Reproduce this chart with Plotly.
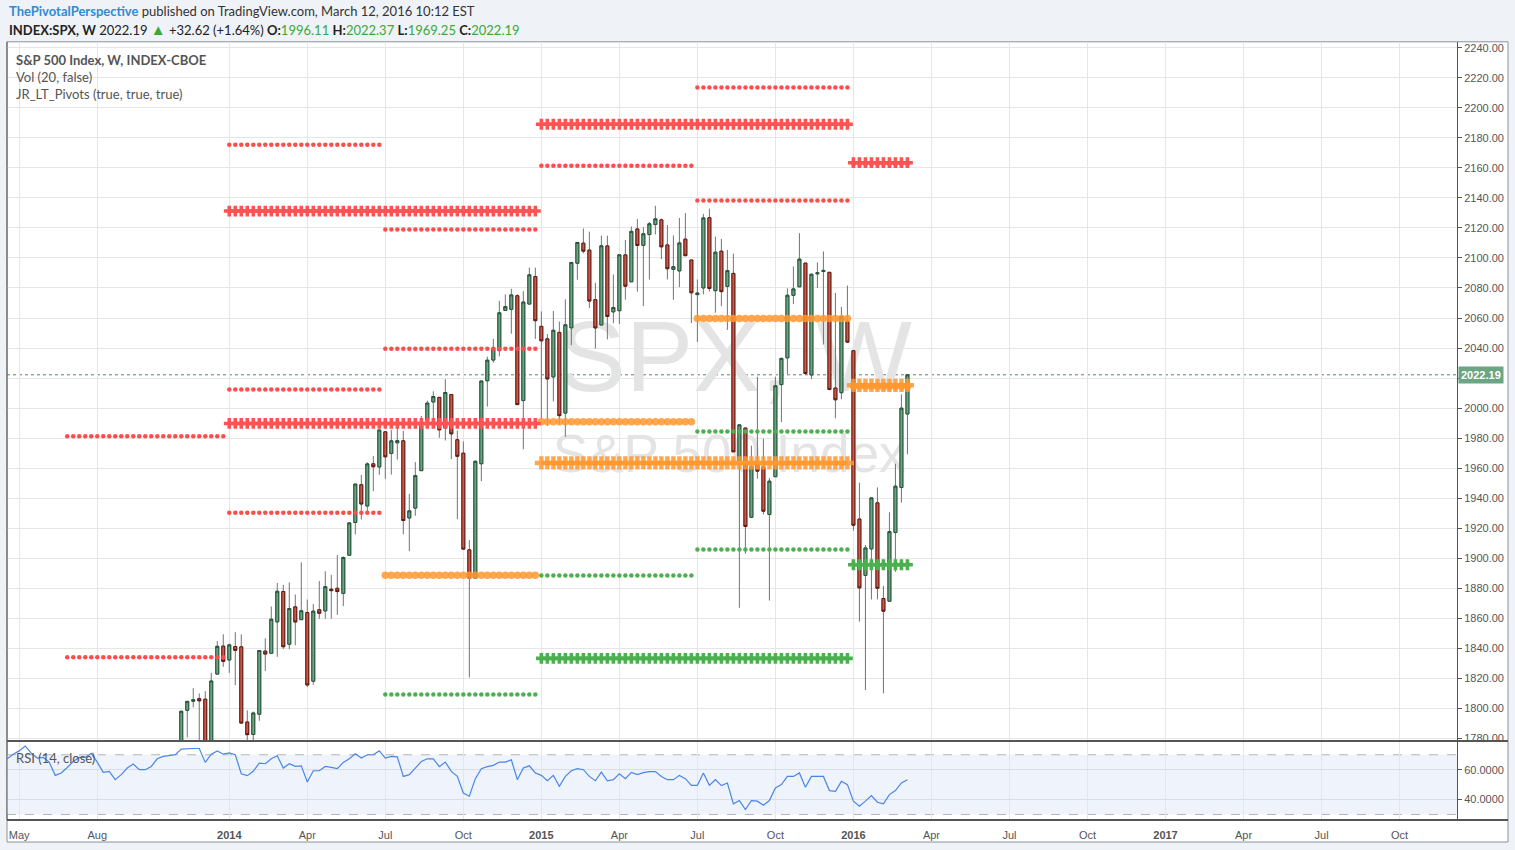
import pandas as pd
import plotly.graph_objects as go

W, H = 1515, 850

# ---------------- weekly S&P 500 bars (Monday dated), from 2013-04-22 ----------------
FIRST_BAR = "2013-04-22"
opens = [
    1555.25, 1582.34, 1614.40, 1632.10, 1665.71, 1652.63, 1631.71, 1644.67, 1630.64, 1588.77,
    1609.78, 1634.20, 1679.59, 1692.09, 1690.32, 1708.01, 1690.65, 1655.25, 1664.29, 1635.95,
    1656.85, 1691.70, 1711.44, 1687.26, 1687.15, 1702.68, 1745.20, 1759.42, 1762.97, 1769.96,
    1798.82, 1804.82, 1806.55, 1806.21, 1776.01, 1822.92, 1841.52,
    # 2014
    1832.31, 1841.26, 1841.05, 1791.03, 1782.68, 1796.20, 1838.22, 1836.78, 1857.68, 1877.86,
    1842.81, 1867.67, 1859.16, 1863.92, 1818.18, 1865.79, 1865.00, 1879.45, 1880.03, 1876.66,
    1902.01, 1923.87, 1948.97, 1934.84, 1962.92, 1960.79, 1984.22, 1969.86, 1976.93, 1978.25,
    1926.86, 1933.43, 1958.36, 1991.74, 2004.07, 2007.17, 1986.77, 2009.08, 1978.96, 1970.01,
    1905.65, 1886.76, 1962.97, 2018.21, 2032.01, 2038.29, 2065.07, 2065.78, 2074.84, 2005.03,
    2069.28, 2087.63,
    # 2015
    2054.44, 2046.13, 2020.76, 2050.42, 1996.67, 2053.47, 2096.47, 2109.83, 2105.23, 2072.25,
    2055.35, 2107.99, 2064.11, 2064.87, 2102.03, 2084.11, 2119.29, 2108.35, 2115.56, 2122.27,
    2125.34, 2108.64, 2092.34, 2091.34, 2112.50, 2098.63, 2075.58, 2080.03, 2126.80, 2078.19,
    2104.49, 2080.98, 2089.70, 1965.15, 1986.73, 1927.30, 1963.06, 1960.84, 1929.18, 1954.33,
    2015.65, 2033.47, 2075.08, 2080.76, 2096.56, 2022.08, 2089.41, 2090.95, 2090.42, 2013.37,
    2010.27, 2057.77,
    # 2016
    2038.20, 1926.12, 1888.66, 1906.28, 1936.94, 1873.25, 1871.44, 1917.15, 1947.13, 1996.11,
]
highs = [
    1592.64, 1618.46, 1635.01, 1667.47, 1687.18, 1674.21, 1646.53, 1648.69, 1654.19, 1620.07,
    1632.07, 1680.19, 1693.12, 1698.78, 1709.67, 1709.24, 1696.81, 1664.85, 1669.51, 1664.83,
    1689.97, 1729.86, 1711.44, 1696.55, 1703.44, 1745.31, 1759.82, 1775.22, 1774.54, 1798.22,
    1802.33, 1813.55, 1810.02, 1811.52, 1823.75, 1844.89, 1849.44,
    # 2014
    1843.23, 1850.84, 1849.31, 1798.77, 1798.03, 1838.63, 1846.79, 1867.92, 1883.57, 1882.35,
    1883.97, 1875.92, 1897.28, 1872.53, 1869.63, 1884.89, 1891.33, 1889.07, 1902.17, 1901.26,
    1924.03, 1949.44, 1955.55, 1963.91, 1968.17, 1985.59, 1984.22, 1985.59, 1991.39, 1984.85,
    1942.92, 1964.04, 1994.76, 2005.04, 2011.17, 2007.17, 2019.26, 2009.08, 1985.17, 1977.84,
    1912.09, 1965.27, 2018.19, 2034.26, 2046.18, 2071.46, 2075.76, 2079.47, 2075.78, 2077.85,
    2093.55, 2093.55,
    # 2015
    2064.43, 2049.30, 2064.62, 2057.62, 2072.40, 2097.03, 2110.61, 2119.59, 2117.52, 2083.49,
    2114.86, 2114.86, 2088.97, 2102.61, 2111.91, 2120.92, 2125.92, 2120.48, 2123.89, 2134.72,
    2126.22, 2121.92, 2115.02, 2126.65, 2129.87, 2098.63, 2085.67, 2129.35, 2132.82, 2114.24,
    2112.66, 2105.35, 2102.87, 1965.15, 1986.73, 1975.01, 2020.86, 1979.64, 1953.46, 2020.86,
    2033.54, 2079.74, 2094.32, 2116.48, 2096.56, 2089.17, 2097.06, 2104.27, 2090.42, 2076.72,
    2067.36, 2081.56,
    # 2016
    2038.20, 1950.33, 1908.85, 1940.24, 1947.20, 1881.60, 1930.68, 1962.96, 2009.13, 2022.37,
]
lows = [
    1548.19, 1581.28, 1614.40, 1626.74, 1635.53, 1630.74, 1598.23, 1608.07, 1577.70, 1560.33,
    1604.57, 1634.20, 1672.21, 1676.03, 1681.86, 1683.38, 1652.61, 1639.43, 1627.47, 1633.41,
    1656.85, 1691.70, 1687.11, 1674.99, 1646.47, 1700.79, 1740.50, 1752.70, 1746.20, 1760.64,
    1780.75, 1800.77, 1779.09, 1772.43, 1767.99, 1822.92, 1827.74,
    # 2014
    1823.73, 1815.52, 1790.29, 1772.26, 1737.92, 1791.83, 1824.93, 1836.78, 1834.44, 1839.57,
    1839.49, 1842.11, 1859.16, 1814.36, 1815.80, 1859.70, 1859.79, 1859.79, 1862.36, 1868.14,
    1902.01, 1915.98, 1925.78, 1930.91, 1944.69, 1955.59, 1952.86, 1955.73, 1965.77, 1916.01,
    1904.78, 1928.29, 1958.36, 1990.52, 1990.10, 1980.26, 1978.48, 1965.99, 1926.03, 1906.05,
    1820.66, 1886.76, 1951.37, 2001.01, 2030.17, 2034.46, 2064.75, 2049.57, 2002.33, 1972.56,
    2069.28, 2046.04,
    # 2015
    1992.44, 1988.12, 2004.49, 1989.18, 1980.90, 2041.88, 2085.44, 2103.00, 2066.59, 2039.69,
    2055.35, 2045.79, 2056.52, 2056.01, 2072.25, 2084.11, 2077.52, 2067.93, 2085.57, 2115.56,
    2099.18, 2085.67, 2072.14, 2080.53, 2101.30, 2056.64, 2044.02, 2075.78, 2077.63, 2063.52,
    2067.91, 2052.09, 1970.89, 1867.01, 1903.07, 1927.30, 1953.03, 1929.22, 1871.91, 1954.33,
    1990.73, 2022.63, 2069.29, 2080.76, 2022.03, 2019.39, 2080.07, 2042.35, 2011.99, 1993.26,
    2005.93, 2043.62,
    # 2016
    1918.46, 1857.83, 1812.29, 1872.65, 1872.65, 1810.10, 1871.44, 1891.00, 1937.09, 1969.25,
]
closes = [
    1582.24, 1614.42, 1633.70, 1667.47, 1649.60, 1630.74, 1643.38, 1626.73, 1592.43, 1606.28,
    1631.89, 1680.19, 1692.09, 1691.65, 1709.67, 1691.42, 1655.83, 1663.50, 1632.97, 1655.17,
    1687.99, 1709.91, 1691.75, 1690.50, 1703.20, 1744.50, 1759.77, 1761.64, 1770.61, 1798.18,
    1804.76, 1805.81, 1805.09, 1775.32, 1818.32, 1841.40, 1831.37,
    # 2014
    1842.37, 1838.70, 1790.29, 1782.59, 1797.02, 1838.63, 1836.25, 1859.45, 1878.04, 1841.13,
    1866.52, 1857.62, 1865.09, 1815.69, 1864.85, 1863.40, 1881.14, 1878.48, 1877.86, 1900.53,
    1923.57, 1949.44, 1936.16, 1962.87, 1960.96, 1985.44, 1967.57, 1978.22, 1978.34, 1925.15,
    1931.59, 1955.06, 1988.40, 2003.37, 2007.71, 1985.54, 2010.40, 1982.85, 1967.90, 1906.13,
    1886.76, 1964.58, 2018.05, 2031.92, 2039.82, 2063.50, 2067.56, 2075.37, 2002.33, 2070.65,
    2088.77, 2058.20,
    # 2015
    2044.81, 2019.42, 2051.82, 1994.99, 2055.47, 2096.99, 2110.30, 2104.50, 2071.26, 2053.40,
    2108.10, 2061.02, 2066.96, 2102.06, 2081.18, 2117.69, 2108.29, 2116.10, 2122.73, 2126.06,
    2107.39, 2092.83, 2094.11, 2109.99, 2101.49, 2076.78, 2076.62, 2126.64, 2079.65, 2103.84,
    2077.57, 2091.54, 1970.89, 1988.87, 1921.22, 1961.05, 1958.03, 1931.34, 1951.36, 2014.89,
    2033.11, 2075.15, 2079.36, 2099.20, 2023.04, 2089.17, 2090.11, 2091.69, 2012.37, 2005.55,
    2060.99, 2043.94,
    # 2016
    1922.03, 1880.33, 1906.90, 1940.24, 1880.05, 1864.78, 1917.78, 1948.05, 1999.99, 2022.19,
]

# RSI(14, close), one value per weekly bar
rsi = [
    67.3, 70.4, 72.6, 75.8, 71.1, 67.8, 68.2, 65.1, 56.2, 57.8,
    61.5, 65.5, 68.2, 68.2, 70.9, 65.1, 58.2, 58.9, 53.3, 56.7,
    61.1, 63.8, 60.0, 60.0, 62.2, 67.3, 68.9, 69.3, 70.0, 73.8,
    74.2, 74.2, 74.2, 64.9, 70.4, 72.6, 70.4,
    71.3, 70.0, 57.3, 56.0, 58.9, 64.4, 64.0, 67.3, 69.3, 61.1,
    64.0, 62.2, 62.6, 51.8, 59.3, 59.3, 62.2, 61.5, 60.7, 64.9,
    67.3, 70.6, 67.8, 70.0, 70.0, 72.6, 67.8, 68.9, 68.6, 55.5,
    56.7, 61.1, 65.5, 67.3, 67.3, 62.0, 65.1, 58.9, 55.5, 44.4,
    42.2, 54.0, 60.7, 62.0, 62.9, 65.1, 65.1, 66.6, 53.3, 61.1,
    62.6, 57.8,
    56.2, 52.6, 56.2, 48.9, 55.5, 59.3, 60.7, 60.0, 55.5, 52.6,
    58.4, 52.6, 53.3, 57.3, 54.0, 58.2, 56.7, 58.0, 58.7, 58.7,
    55.5, 53.3, 53.3, 56.2, 54.0, 49.5, 49.5, 57.8, 49.5, 53.3,
    49.3, 51.1, 37.1, 39.3, 33.3, 39.3, 38.9, 36.2, 39.3, 47.8,
    50.0, 55.5, 55.5, 57.8, 48.2, 55.5, 55.5, 55.5, 46.0, 45.5,
    52.2, 50.0,
    38.9, 35.5, 38.9, 42.6, 38.2, 37.1, 43.3, 46.0, 51.1, 53.3,
]
RSI_BANDS = [30, 70]

# ---------------- JR_LT_Pivots levels ----------------
semi_periods = [("2013-07-01", "2013-12-30"), ("2014-01-06", "2014-06-30"),
                ("2014-07-07", "2014-12-29"), ("2015-01-05", "2015-06-29"),
                ("2015-07-06", "2015-12-28"), ("2016-01-04", "2016-03-07")]
semi_R = [[1834.2, 1981.2], [1930.4, 2012.4, 2175.3], [2039.6, 2119.0],
          [2161.4], [2138.3, 2213.4], [2162.2]]
semi_P = [None, None, 1888.8, 1991.0, 2059.6, 2014.6]
semi_S = [[], [], [1809.4], [1888.5], [1984.5, 1905.8], [1896.4]]

annual_periods = [("2014-01-06", "2014-12-29"), ("2015-01-05", "2015-12-28"),
                  ("2016-01-04", "2016-03-07")]
annual_R = [[1989.8, 2131.2], [2189.0], [2163.4]]
annual_P = [None, 1963.5, 2015.2]
annual_S = [[], [1833.4], [1895.7]]

LAST_PRICE = 2022.19

# ---------------- axis ticks ----------------
tick_dates = ["2013-05-06", "2013-08-05", "2014-01-06", "2014-04-07", "2014-07-07", "2014-10-06",
              "2015-01-05", "2015-04-06", "2015-07-06", "2015-10-05", "2016-01-04", "2016-04-04",
              "2016-07-04", "2016-10-03", "2017-01-02", "2017-04-03", "2017-07-03", "2017-10-02"]
tick_text = ["May", "Aug", "<b>2014</b>", "Apr", "Jul", "Oct", "<b>2015</b>", "Apr", "Jul", "Oct",
             "<b>2016</b>", "Apr", "Jul", "Oct", "<b>2017</b>", "Apr", "Jul", "Oct"]
price_ticks = list(range(1780, 2241, 20))
price_tick_text = ["" if v == 2020 else "%.2f" % v for v in price_ticks]   # hidden by the last-price tag
X_RANGE = ["2013-04-21 18:00", "2017-12-08"]
PRICE_RANGE = [1778.7, 2243.9]
RSI_RANGE = [26.2, 78.9]

dates = pd.date_range(FIRST_BAR, periods=len(closes), freq="W-MON")

# ---------------- layout helpers ----------------
def px_x(p):
    return p / W

def px_y(p):
    return 1 - p / H

PL, PR = 7, 1457          # plot left/right px
MAIN_T, MAIN_B = 42, 744
RSI_T, RSI_B = 745, 824
BOX_R, BOX_B = 1508, 846

fig = go.Figure()

# watermark (base layer, below candles)
fig.add_trace(go.Scatter(
    x=["2015-08-19", "2015-08-12"], y=[2028, 1966], mode="text",
    text=["SPX, W", "S&P 500 Index"],
    textfont=dict(family="Liberation Sans", size=[101, 53], color="#e4e4e4"),
    hoverinfo="skip", showlegend=False, xaxis="x", yaxis="y"))

# wicks (gray)
fig.add_trace(go.Candlestick(
    x=dates, open=opens, high=highs, low=lows, close=closes,
    increasing=dict(line=dict(color="#737375", width=1), fillcolor="#737375"),
    decreasing=dict(line=dict(color="#737375", width=1), fillcolor="#737375"),
    whiskerwidth=0, showlegend=False, hoverinfo="skip", xaxis="x", yaxis="y3"))

# bodies
body_hi = [max(o, c) for o, c in zip(opens, closes)]
body_lo = [min(o, c) for o, c in zip(opens, closes)]
fig.add_trace(go.Candlestick(
    x=dates, open=opens, high=body_hi, low=body_lo, close=closes,
    increasing=dict(line=dict(color="#225437", width=1), fillcolor="#6ba583"),
    decreasing=dict(line=dict(color="#5b1a13", width=1), fillcolor="#d75442"),
    whiskerwidth=0, showlegend=False, hoverinfo="skip", xaxis="x", yaxis="y3"))

# pivot markers
def level_points(periods, levels):
    xs, ys = [], []
    for (a, b), lv in zip(periods, levels):
        if lv is None:
            continue
        vals = lv if isinstance(lv, list) else [lv]
        wk = pd.date_range(a, b, freq="W-MON")
        for v in vals:
            xs += list(wk)
            ys += [v] * len(wk)
    return xs, ys

styles = [
    (semi_periods, semi_R, dict(symbol="circle", size=4.5, color="#ff4d4d")),
    (semi_periods, semi_S, dict(symbol="circle", size=4.5, color="#4caf50")),
    (semi_periods, semi_P, dict(symbol="circle", size=7.5, color="rgba(255,152,48,0.85)")),
    (annual_periods, annual_R, dict(symbol="cross", size=9, color="#ff5252")),
    (annual_periods, annual_S, dict(symbol="cross", size=9, color="#4caf50")),
    (annual_periods, annual_P, dict(symbol="cross", size=11, color="rgba(255,152,48,0.85)")),
]
for per, lv, mk in styles:
    xs, ys = level_points(per, lv)
    fig.add_trace(go.Scatter(x=xs, y=ys, mode="markers", marker=dict(line=dict(width=0), **mk),
                             showlegend=False, hoverinfo="skip", xaxis="x", yaxis="y3"))

# RSI
rsi_dates = pd.date_range(FIRST_BAR, periods=len(rsi), freq="W-MON")
fig.add_trace(go.Scatter(x=rsi_dates, y=rsi, mode="lines", line=dict(color="#4a86e8", width=1.2),
                         showlegend=False, hoverinfo="skip", xaxis="x2", yaxis="y2"))

GRID = "#e6e6e6"
AX = "#555555"
axis_font = dict(family="Liberation Sans", size=11, color="#555555")

fig.update_layout(
    width=W, height=H, autosize=False,
    margin=dict(l=0, r=0, t=0, b=0),
    paper_bgcolor="#eff2f6", plot_bgcolor="white",
    showlegend=False,
    xaxis=dict(type="date", domain=[px_x(PL), px_x(PR)], range=X_RANGE, anchor="y",
               tickvals=tick_dates, showticklabels=False, showgrid=True, gridcolor=GRID,
               zeroline=False, showline=False, rangeslider=dict(visible=False), fixedrange=True),
    yaxis=dict(domain=[px_y(MAIN_B), px_y(MAIN_T)], range=PRICE_RANGE, anchor="x", side="right",
               tickvals=price_ticks, ticktext=price_tick_text,
               showgrid=True, gridcolor=GRID, zeroline=False, ticks="outside", ticklen=4,
               tickcolor=AX, showline=True, linecolor=AX, linewidth=1, tickfont=axis_font),
    yaxis3=dict(overlaying="y", range=PRICE_RANGE, visible=False, anchor="x", side="right"),
    xaxis2=dict(type="date", domain=[px_x(PL), px_x(PR)], range=X_RANGE, anchor="y2", matches="x",
                tickvals=tick_dates, ticktext=tick_text, showgrid=True, gridcolor=GRID,
                zeroline=False, showline=False, tickfont=axis_font, ticks="outside", ticklen=5,
                tickcolor="rgba(0,0,0,0)"),
    yaxis2=dict(domain=[px_y(RSI_B), px_y(RSI_T)], range=RSI_RANGE, anchor="x2", side="right",
                tickvals=[40, 60], ticktext=["40.0000", "60.0000"], showgrid=True, gridcolor="#d9dde6",
                zeroline=False, ticks="outside", ticklen=4, tickcolor=AX, showline=True,
                linecolor=AX, tickfont=axis_font),
)

shapes = [
    # chart box
    dict(type="rect", xref="paper", yref="paper", x0=px_x(PL), x1=px_x(BOX_R),
         y0=px_y(BOX_B), y1=px_y(MAIN_T), fillcolor="white", line=dict(color="#8c9099", width=1),
         layer="below"),
    # RSI band
    dict(type="rect", xref="x2 domain", yref="y2", x0=0, x1=1, y0=RSI_BANDS[0], y1=RSI_BANDS[1],
         fillcolor="#eef3fc", line=dict(width=0), layer="below"),
    dict(type="line", xref="x2 domain", yref="y2", x0=0, x1=1, y0=RSI_BANDS[0], y1=RSI_BANDS[0],
         line=dict(color="#b4b4b4", width=1, dash="dash"), layer="below"),
    dict(type="line", xref="x2 domain", yref="y2", x0=0, x1=1, y0=RSI_BANDS[1], y1=RSI_BANDS[1],
         line=dict(color="#b4b4b4", width=1, dash="dash"), layer="below"),
    # last price dotted line
    dict(type="line", xref="x domain", yref="y", x0=0, x1=1, y0=LAST_PRICE, y1=LAST_PRICE,
         line=dict(color="#4f8f6c", width=1, dash="dot"), layer="below"),
    # pane separators
    dict(type="line", xref="paper", yref="paper", x0=px_x(PL), x1=px_x(BOX_R),
         y0=px_y(MAIN_B + 0.5), y1=px_y(MAIN_B + 0.5), line=dict(color="#555555", width=2)),
    dict(type="line", xref="paper", yref="paper", x0=px_x(PL), x1=px_x(BOX_R),
         y0=px_y(RSI_B), y1=px_y(RSI_B), line=dict(color="#555555", width=2)),
    dict(type="line", xref="paper", yref="paper", x0=px_x(PL), x1=px_x(PL),
         y0=px_y(RSI_B), y1=px_y(MAIN_T), line=dict(color="#555555", width=1)),
]
fig.update_layout(shapes=shapes)

GREEN = "#3aa83a"
hdr_font = dict(family="Lato", size=13, color="#333333")
annotations = [
    dict(xref="paper", yref="paper", x=px_x(7), y=px_y(11), xanchor="left", yanchor="middle",
         showarrow=False, font=hdr_font,
         text='<span style="color:#2e8bd6"><b>ThePivotalPerspective</b></span> published on TradingView.com, March 12, 2016 10:12 EST'),
    dict(xref="paper", yref="paper", x=px_x(7), y=px_y(29), xanchor="left", yanchor="middle",
         showarrow=False, font=dict(family="Lato", size=13, color="#222222"),
         text=('<b>INDEX:SPX, W</b> 2022.19 <span style="color:%s;font-size:15px">▲</span> +32.62 (+1.64%%) '
               '<b>O:</b><span style="color:%s">1996.11</span> <b>H:</b><span style="color:%s">2022.37</span> '
               '<b>L:</b><span style="color:%s">1969.25</span> <b>C:</b><span style="color:%s">2022.19</span>')
         % (GREEN, GREEN, GREEN, GREEN, GREEN)),
    dict(xref="paper", yref="paper", x=px_x(14), y=px_y(60), xanchor="left", yanchor="middle",
         showarrow=False, font=dict(family="Lato", size=13, color="#555555"),
         text="<b>S&amp;P 500 Index, W, INDEX-CBOE</b>"),
    dict(xref="paper", yref="paper", x=px_x(14), y=px_y(77), xanchor="left", yanchor="middle",
         showarrow=False, font=dict(family="Lato", size=13, color="#555555"), text="Vol (20, false)"),
    dict(xref="paper", yref="paper", x=px_x(14), y=px_y(94), xanchor="left", yanchor="middle",
         showarrow=False, font=dict(family="Lato", size=13, color="#555555"),
         text="JR_LT_Pivots (true, true, true)"),
    dict(xref="paper", yref="paper", x=px_x(14), y=px_y(762), xanchor="left", yanchor="middle",
         showarrow=False, font=dict(family="Lato", size=13, color="#555555"), text="RSI (14, close)"),
    dict(xref="paper", yref="y", x=px_x(PR + 1), y=LAST_PRICE, xanchor="left", yanchor="middle",
         showarrow=False, bgcolor="#6ba583", borderpad=2,
         font=dict(family="Liberation Sans", size=11, color="white"), text="<b>2022.19</b>"),
]
fig.update_layout(annotations=annotations)

post = ("document.documentElement.style.margin='0';document.body.style.margin='0';"
        "document.body.style.overflow='hidden';document.documentElement.style.overflow='hidden';"
        "document.querySelectorAll('.svg-container').forEach(function(e){e.style.display='block';});")
fig.write_html("out.html", config=dict(displayModeBar=False, staticPlot=True), post_script=post)
